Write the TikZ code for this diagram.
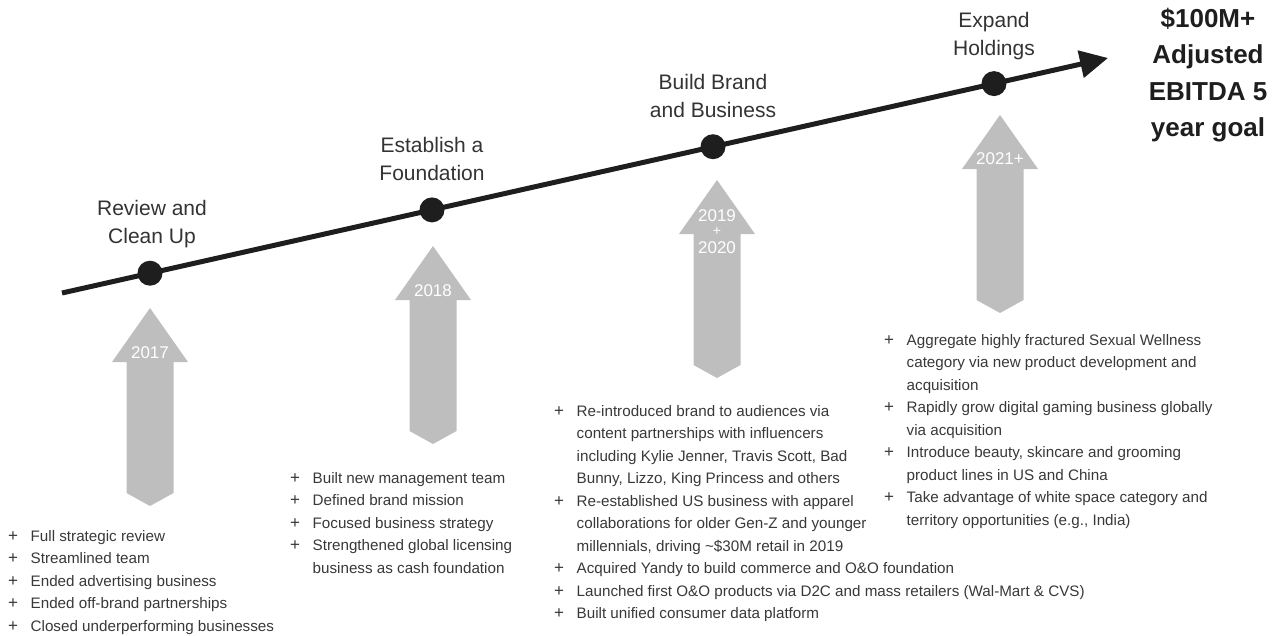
\documentclass[tikz,border=0pt]{standalone}
\usepackage{fontspec}
\setmainfont{Liberation Sans}
\usetikzlibrary{arrows.meta}

\definecolor{ink}{HTML}{1E1E1E}
\definecolor{txt}{HTML}{333333}
\definecolor{notetxt}{HTML}{383838}
\definecolor{band}{HTML}{BEBEBE}

% bullet list: "+" column followed by the text lines
\newcommand\notelist[1]{\begin{tabular}[t]{@{}p{22.5pt}@{}l@{}}#1\end{tabular}}
\newcommand\plusmark{{\fontsize{17}{17}\selectfont +}}
\newcommand\stack[1]{\begin{tabular}[t]{@{}c@{}}#1\end{tabular}}

\tikzset{
  milestone/.style={circle, fill=ink, inner sep=0pt, minimum size=25pt},
  phase/.style={anchor=base, inner sep=0pt, text=txt, font=\fontsize{21}{28}\selectfont},
  yearlabel/.style={anchor=base, inner sep=0pt, text=white, font=\fontsize{17}{15}\selectfont},
  notes/.style={anchor=base west, inner sep=0pt, text=notetxt, font=\fontsize{15.2}{22.5}\selectfont},
  goal/.style={anchor=base, inner sep=0pt, text=ink, font=\fontsize{26}{36.5}\selectfont\bfseries},
  timeline/.style={draw=ink, line width=5pt, -{Triangle[length=28pt,width=27pt]}},
  yeararrow/.pic={
    \fill[band] (0,0) -- (38,54) -- (23.5,54) -- (23.5,185) -- (0,198)
      -- (-23.5,185) -- (-23.5,54) -- (-38,54) -- cycle;
  }
}

\begin{document}
\begin{tikzpicture}[x=1pt, y=-1pt]
  \useasboundingbox (0,0) rectangle (1277,635);

  % timeline
  \coordinate (start) at (62,293);
  \coordinate (end) at (1108,58);
  \draw[timeline] (start) -- (end);

  \node[milestone] (m1) at (150,273.2) {};
  \node[milestone] (m2) at (432,209.9) {};
  \node[milestone] (m3) at (713,146.7) {};
  \node[milestone] (m4) at (994,83.6) {};

  % phase titles
  \node[phase] (p1) at (152,215) {\stack{Review and\\Clean Up}};
  \node[phase] (p2) at (432,152) {\stack{Establish a\\Foundation}};
  \node[phase] (p3) at (713,89) {\stack{Build Brand\\and Business}};
  \node[phase] (p4) at (994,27) {\stack{Expand\\Holdings}};

  % year arrows
  \pic at (150,308) {yeararrow};
  \pic at (433,246) {yeararrow};
  \pic at (717,180) {yeararrow};
  \pic at (1000,115) {yeararrow};

  \node[yearlabel] (y1) at (150,358) {2017};
  \node[yearlabel] (y2) at (433,296) {2018};
  \node[yearlabel] (y3a) at (717,221) {2019};
  \node[yearlabel, font=\fontsize{14}{14}\selectfont] (y3b) at (717,235.5) {+};
  \node[yearlabel] (y3c) at (717,253) {2020};
  \node[yearlabel] (y4) at (1000,164) {2021+};

  % goal
  \node[goal] (goal) at (1208,27) {\stack{\$100M+\\Adjusted\\EBITDA 5\\year goal}};

  % notes
  \node[notes] (n1) at (8,541) {\notelist{
    \plusmark & Full strategic review\\
    \plusmark & Streamlined team\\
    \plusmark & Ended advertising business\\
    \plusmark & Ended off-brand partnerships\\
    \plusmark & Closed underperforming businesses}};
  \node[notes] (n2) at (290,483) {\notelist{
    \plusmark & Built new management team\\
    \plusmark & Defined brand mission\\
    \plusmark & Focused business strategy\\
    \plusmark & Strengthened global licensing\\
      & business as cash foundation}};
  \node[notes] (n3) at (554,416) {\notelist{
    \plusmark & Re-introduced brand to audiences via\\
      & content partnerships with influencers\\
      & including Kylie Jenner, Travis Scott, Bad\\
      & Bunny, Lizzo, King Princess and others\\
    \plusmark & Re-established US business with apparel\\
      & collaborations for older Gen-Z and younger\\
      & millennials, driving \textasciitilde\$30M retail in 2019\\
    \plusmark & Acquired Yandy to build commerce and O\&O foundation\\
    \plusmark & Launched first O\&O products via D2C and mass retailers (Wal-Mart \& CVS)\\
    \plusmark & Built unified consumer data platform}};
  \node[notes] (n4) at (884,345) {\notelist{
    \plusmark & Aggregate highly fractured Sexual Wellness\\
      & category via new product development and\\
      & acquisition\\
    \plusmark & Rapidly grow digital gaming business globally\\
      & via acquisition\\
    \plusmark & Introduce beauty, skincare and grooming\\
      & product lines in US and China\\
    \plusmark & Take advantage of white space category and\\
      & territory opportunities (e.g., India)}};
\end{tikzpicture}
\end{document}
